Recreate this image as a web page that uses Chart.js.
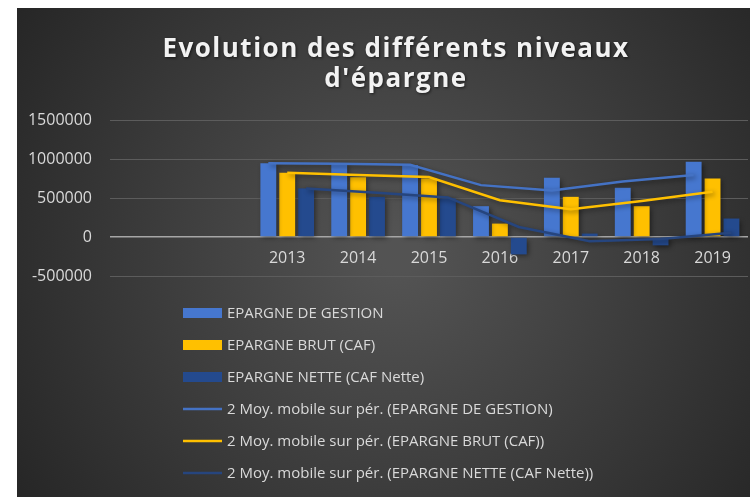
<!DOCTYPE html>
<html>
<head>
<meta charset="utf-8">
<script src="https://cdn.jsdelivr.net/npm/chart.js@4"></script>
<style>
  html, body { margin: 0; padding: 0; background: #ffffff; }
  #wrap { position: absolute; left: 17px; top: 8px; width: 733px; height: 489px; }
</style>
</head>
<body>
<div id="wrap"><canvas id="epargne" width="733" height="489"></canvas></div>
<script>
// Catégories (les deux premières sont vides dans le graphique d'origine)
const annees = ['', '', '2013', '2014', '2015', '2016', '2017', '2018', '2019'];

// Valeurs
const epargneGestion = [null, null, 945000, 945000, 923000, 395000, 760000, 631000, 965000];
const epargneBrut = [null, null, 824000, 765000, 751000, 172000, 515000, 395000, 751000];
const epargneNette = [null, null, 623000, 515000, 494000, -223000, 44000, -107000, 237000];

// Moyennes mobiles sur 2 périodes
const moyGestion = [null, null, 945000, 938000, 925000, 665000, 595000, 712000, 795000];
const moyBrut = [null, null, 824000, 795000, 770000, 472000, 356000, 463000, 580000];
const moyNette = [null, null, 623000, 566000, 507000, 129000, -55000, -25000, 55000];

const yTicks = [-500000, 0, 500000, 1000000, 1500000];

const titre = ['Evolution des différents niveaux', "d'épargne"];

const BLEU = '#4677cf';
const JAUNE = '#ffc000';
const BLEU_FONCE = '#244a8e';

/**
 * Fond gris foncé en dégradé radial + titre espacé
 */
const fondPlugin = {
    id: 'fond',
    beforeDraw(chart) {
        const { ctx, width, height } = chart;
        const g = ctx.createRadialGradient(width * 0.52, height * 0.5, 20, width * 0.52, height * 0.5, width * 0.62);
        g.addColorStop(0, '#535353');
        g.addColorStop(1, '#262626');
        ctx.save();
        ctx.fillStyle = g;
        ctx.fillRect(0, 0, width, height);
        // Titre (dessiné ici pour pouvoir espacer les lettres)
        ctx.font = 'bold 26px "Open Sans"';
        ctx.letterSpacing = '1.5px';
        ctx.textAlign = 'center';
        ctx.textBaseline = 'alphabetic';
        ctx.fillStyle = '#f2f2f2';
        ctx.shadowColor = 'rgba(0,0,0,0.6)';
        ctx.shadowBlur = 3;
        ctx.shadowOffsetX = 1;
        ctx.shadowOffsetY = 1;
        titre.forEach((ligne, i) => ctx.fillText(ligne, 379, 49 + i * 30));
        ctx.restore();
    }
};

/**
 * Les courbes de moyenne mobile suivent la position de leur série de barres
 */
const suiviPlugin = {
    id: 'suivi',
    afterDatasetsUpdate(chart) {
        chart.data.datasets.forEach((ds, i) => {
            if (ds.suit === undefined) return;
            const barres = chart.getDatasetMeta(ds.suit).data;
            chart.getDatasetMeta(i).data.forEach((pt, j) => {
                if (barres[j]) pt.x = barres[j].x;
            });
        });
    },
    beforeDatasetsDraw(chart) {
        const ctx = chart.ctx;
        ctx.save();
        ctx.shadowColor = 'rgba(0,0,0,0.45)';
        ctx.shadowBlur = 5;
        ctx.shadowOffsetX = 2;
        ctx.shadowOffsetY = 2;
    },
    afterDatasetsDraw(chart) {
        chart.ctx.restore();
    }
};

/**
 * Légende verticale sous le graphique
 */
const legendePlugin = {
    id: 'legende',
    afterDraw(chart) {
        const ctx = chart.ctx;
        const x0 = 166, largeur = 39, y0 = 305, pas = 32;
        ctx.save();
        ctx.font = '15px "Open Sans"';
        ctx.textBaseline = 'middle';
        chart.data.datasets.forEach((ds, i) => {
            const y = y0 + i * pas;
            if (ds.type === 'line') {
                ctx.strokeStyle = ds.borderColor;
                ctx.lineWidth = 2.5;
                ctx.beginPath();
                ctx.moveTo(x0, y);
                ctx.lineTo(x0 + largeur, y);
                ctx.stroke();
            } else {
                ctx.fillStyle = ds.backgroundColor;
                ctx.fillRect(x0, y - 5, largeur, 10);
            }
            ctx.fillStyle = '#d9d9d9';
            ctx.fillText(ds.label, x0 + largeur + 5, y + 1);
        });
        ctx.restore();
    }
};

const ctx = document.getElementById('epargne');
new Chart(ctx, {
    data: {
        labels: annees,
        datasets: [
            { type: 'bar', label: 'EPARGNE DE GESTION', data: epargneGestion, backgroundColor: BLEU, order: 2 },
            { type: 'bar', label: 'EPARGNE BRUT (CAF)', data: epargneBrut, backgroundColor: JAUNE, order: 2 },
            { type: 'bar', label: 'EPARGNE NETTE (CAF Nette)', data: epargneNette, backgroundColor: BLEU_FONCE, order: 2 },
            { type: 'line', label: '2 Moy. mobile sur pér. (EPARGNE DE GESTION)', data: moyGestion, suit: 0,
              borderColor: '#4472c4', borderWidth: 2.5, pointRadius: 0, order: 1 },
            { type: 'line', label: '2 Moy. mobile sur pér. (EPARGNE BRUT (CAF))', data: moyBrut, suit: 1,
              borderColor: '#ffc000', borderWidth: 2.5, pointRadius: 0, order: 1 },
            { type: 'line', label: '2 Moy. mobile sur pér. (EPARGNE NETTE (CAF Nette))', data: moyNette, suit: 2,
              borderColor: '#26457e', borderWidth: 2.5, pointRadius: 0, order: 1 }
        ]
    },
    options: {
        responsive: false,
        animation: false,
        layout: { padding: { left: 11, right: 2, top: 112, bottom: 221 } },
        datasets: {
            bar: { categoryPercentage: 0.8, barPercentage: 0.84 }
        },
        scales: {
            x: {
                position: { y: 0 },
                grid: { display: false, drawTicks: false },
                border: { display: false },
                ticks: { color: '#d9d9d9', font: { family: 'Open Sans', size: 16 }, padding: 12 }
            },
            y: {
                min: -500000,
                max: 1500000,
                afterBuildTicks(axis) { axis.ticks = yTicks.map(v => ({ value: v })); },
                afterFit(s) { s.width = 82; },
                grid: {
                    drawTicks: false,
                    color: c => c.tick && c.tick.value === 0 ? '#a6a6a6' : '#5c5c5c',
                    lineWidth: c => c.tick && c.tick.value === 0 ? 1.5 : 1
                },
                border: { display: false },
                ticks: {
                    color: '#d9d9d9',
                    font: { family: 'Open Sans', size: 16 },
                    padding: 18,
                    callback: v => String(v)
                }
            }
        },
        plugins: {
            legend: { display: false },
            tooltip: { enabled: false }
        }
    },
    plugins: [fondPlugin, suiviPlugin, legendePlugin]
});
</script>
</body>
</html>
